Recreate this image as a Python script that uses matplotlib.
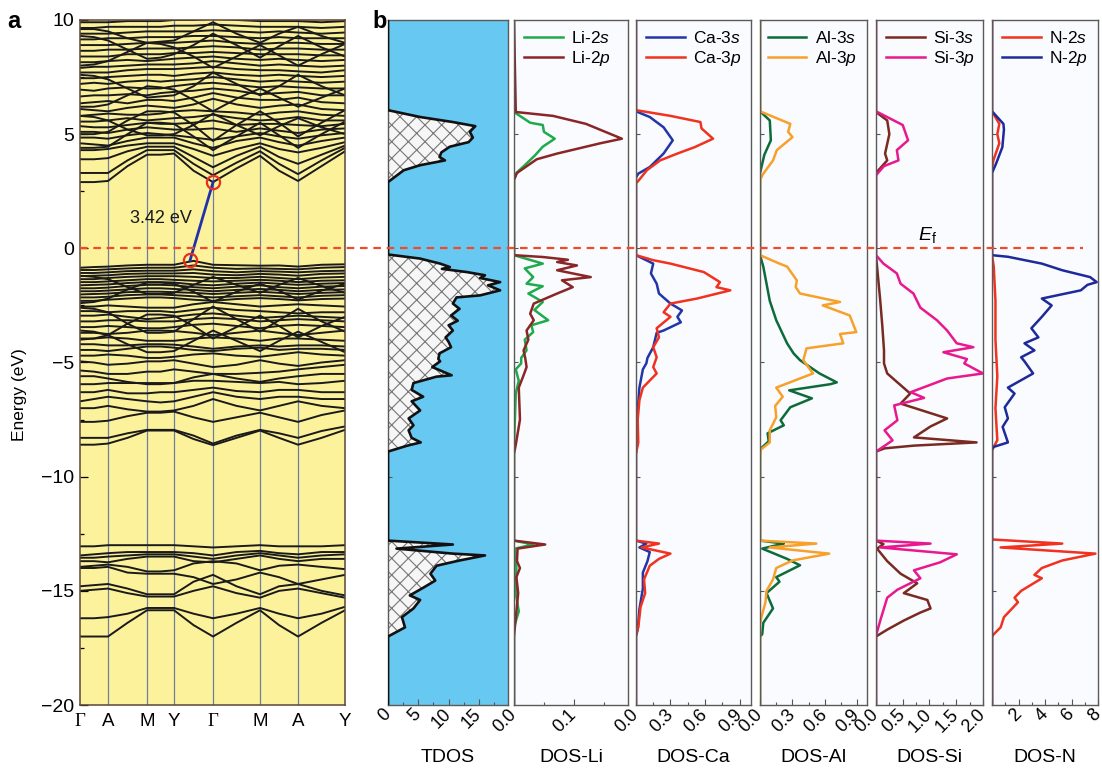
"""
Band structure (a) and total / partial density of states (b).
Values read off the reference figure.
"""
import numpy as np
import matplotlib
matplotlib.use("Agg")
import matplotlib.pyplot as plt
import matplotlib.ticker as ticker
from matplotlib.lines import Line2D
from matplotlib.transforms import blended_transform_factory

plt.rcParams["font.family"] = ["Liberation Sans", "DejaVu Sans"]
plt.rcParams["mathtext.fontset"] = "custom"
plt.rcParams["mathtext.rm"] = "Liberation Sans"
plt.rcParams["mathtext.it"] = "Liberation Sans:italic"
plt.rcParams["hatch.linewidth"] = 0.8
plt.rcParams["hatch.color"] = "#767676"

# --------------------------------------------------------------------------- #
#  Band structure data                                                         #
# --------------------------------------------------------------------------- #
K_NODES = [0, 28, 67, 94, 133, 180, 218, 265]
K_LABELS = ["Γ", "A", "M", "Y", "Γ", "M", "A", "Y"]
# sampled path: nodes and segment midpoints
K_SAMPLE = [0, 14, 28, 47.5, 67, 80.5, 94, 113.5, 133, 156.5, 180, 199, 218, 241.5, 265]

BANDS_CB = [
    [2.90, 2.90, 2.95, 3.60, 4.10, 4.10, 4.15, 3.40, 2.90, 3.50, 4.05, 3.40, 2.95, 3.60, 4.25],
    [3.30, 3.30, 3.30, 3.85, 4.30, 4.30, 4.30, 3.70, 3.20, 3.75, 4.25, 3.70, 3.25, 3.85, 4.40],
    [3.90, 3.90, 3.95, 4.25, 4.45, 4.45, 4.45, 4.00, 3.55, 4.05, 4.45, 4.00, 3.70, 4.10, 4.50],
    [4.30, 4.30, 4.35, 4.50, 4.60, 4.60, 4.60, 4.35, 4.05, 4.35, 4.60, 4.35, 4.20, 4.40, 4.65],
    [4.60, 4.55, 4.50, 4.70, 4.85, 4.85, 4.85, 4.60, 4.40, 4.70, 4.85, 4.65, 4.50, 4.70, 4.85],
    [4.85, 4.85, 4.80, 4.95, 5.05, 5.00, 4.95, 4.85, 4.75, 4.90, 5.05, 4.90, 4.80, 4.95, 5.05],
    [5.10, 5.10, 5.05, 5.20, 5.30, 5.25, 5.20, 5.20, 5.25, 5.10, 5.25, 5.15, 5.05, 5.20, 5.25],
    [5.35, 5.30, 5.30, 5.40, 5.50, 5.45, 5.45, 5.50, 5.60, 5.40, 5.45, 5.45, 5.40, 5.35, 5.45],
    [5.55, 5.55, 5.60, 5.70, 5.60, 5.65, 5.70, 5.75, 5.85, 5.70, 5.60, 5.65, 5.75, 5.60, 5.60],
    [5.80, 5.85, 5.90, 5.85, 5.85, 5.90, 6.00, 6.05, 6.00, 5.95, 5.85, 5.95, 6.00, 5.85, 5.80],
    [6.10, 6.05, 6.00, 6.15, 6.25, 6.20, 6.15, 6.30, 6.55, 6.30, 6.15, 6.25, 6.30, 6.10, 6.05],
    [6.35, 6.40, 6.45, 6.35, 6.50, 6.50, 6.45, 6.60, 6.80, 6.60, 6.50, 6.50, 6.60, 6.40, 6.35],
    [6.65, 6.70, 6.70, 6.75, 6.70, 6.80, 6.85, 6.90, 7.00, 6.90, 6.75, 6.80, 6.85, 6.70, 6.70],
    [6.95, 6.90, 7.00, 7.05, 7.00, 7.00, 7.10, 7.20, 7.25, 7.15, 7.05, 7.10, 7.05, 7.00, 7.00],
    [7.20, 7.25, 7.20, 7.30, 7.35, 7.30, 7.35, 7.40, 7.50, 7.40, 7.30, 7.35, 7.30, 7.25, 7.30],
    [7.45, 7.45, 7.50, 7.55, 7.60, 7.60, 7.55, 7.65, 7.70, 7.60, 7.55, 7.60, 7.55, 7.50, 7.55],
    [7.70, 7.70, 7.70, 7.80, 7.85, 7.85, 7.85, 7.90, 7.95, 7.85, 7.80, 7.80, 7.75, 7.70, 7.80],
    [7.90, 7.95, 7.95, 8.00, 8.05, 8.05, 8.05, 8.10, 8.20, 8.10, 8.00, 8.05, 8.00, 7.95, 8.00],
    [8.15, 8.15, 8.20, 8.25, 8.20, 8.25, 8.30, 8.35, 8.40, 8.30, 8.25, 8.30, 8.25, 8.20, 8.25],
    [8.40, 8.40, 8.40, 8.50, 8.50, 8.50, 8.55, 8.55, 8.60, 8.55, 8.50, 8.50, 8.50, 8.45, 8.45],
    [8.65, 8.65, 8.70, 8.70, 8.75, 8.75, 8.75, 8.80, 8.85, 8.80, 8.70, 8.75, 8.75, 8.70, 8.70],
    [8.90, 8.90, 8.90, 8.95, 9.00, 9.00, 9.00, 9.05, 9.10, 9.00, 8.95, 9.00, 9.00, 8.95, 8.95],
    [9.15, 9.15, 9.20, 9.20, 9.25, 9.25, 9.25, 9.30, 9.30, 9.25, 9.20, 9.25, 9.20, 9.20, 9.20],
    [9.40, 9.40, 9.40, 9.45, 9.50, 9.50, 9.50, 9.50, 9.55, 9.50, 9.45, 9.50, 9.45, 9.40, 9.45],
    [9.65, 9.65, 9.70, 9.70, 9.70, 9.70, 9.75, 9.75, 9.80, 9.75, 9.70, 9.70, 9.70, 9.65, 9.70],
    [9.90, 9.90, 9.90, 9.95, 9.95, 9.95, 10.0, 10.0, 10.05, 10.0, 9.95, 9.95, 9.95, 9.90, 9.95],
    [4.40, 4.40, 4.45, 5.00, 5.50, 5.50, 5.45, 4.90, 4.30, 4.90, 5.50, 4.95, 4.40, 5.00, 5.55],
    [5.80, 5.75, 5.60, 5.20, 4.95, 4.95, 5.00, 5.40, 5.90, 5.40, 4.95, 5.35, 5.70, 5.30, 5.00],
    [6.20, 6.20, 6.30, 6.70, 7.10, 7.05, 6.95, 6.50, 6.00, 6.55, 7.00, 6.60, 6.20, 6.60, 7.00],
    [7.60, 7.55, 7.40, 7.00, 6.60, 6.65, 6.70, 7.10, 7.70, 7.20, 6.70, 7.10, 7.60, 7.10, 6.70],
    [8.00, 8.05, 8.20, 8.60, 9.00, 8.95, 8.80, 8.40, 7.90, 8.40, 8.90, 8.45, 8.00, 8.50, 8.95],
    [9.30, 9.25, 9.10, 8.70, 8.30, 8.35, 8.50, 8.90, 9.40, 8.90, 8.35, 8.85, 9.30, 8.80, 8.40],
    [5.00, 5.00, 5.10, 5.60, 6.00, 6.00, 5.95, 5.40, 4.70, 5.40, 6.00, 5.50, 4.90, 5.50, 6.05],
    [9.60, 9.60, 9.50, 9.20, 9.00, 9.05, 9.10, 9.50, 9.90, 9.40, 9.00, 9.40, 9.70, 9.30, 9.00],
]

BANDS_VB = [
    [-0.85, -0.82, -0.80, -0.75, -0.72, -0.72, -0.72, -0.55, -0.72, -0.74, -0.76, -0.75, -0.80, -0.72, -0.70],
    [-0.95, -0.95, -0.92, -0.88, -0.85, -0.85, -0.85, -0.75, -0.85, -0.90, -0.88, -0.90, -0.92, -0.85, -0.82],
    [-1.08, -1.08, -1.05, -1.00, -0.98, -0.98, -0.98, -0.92, -1.00, -1.05, -1.00, -1.02, -1.05, -1.00, -0.98],
    [-1.22, -1.20, -1.18, -1.12, -1.10, -1.10, -1.10, -1.08, -1.15, -1.18, -1.12, -1.15, -1.20, -1.12, -1.10],
    [-1.35, -1.35, -1.30, -1.25, -1.22, -1.22, -1.22, -1.25, -1.30, -1.30, -1.25, -1.30, -1.35, -1.28, -1.25],
    [-1.48, -1.48, -1.45, -1.40, -1.35, -1.35, -1.38, -1.42, -1.45, -1.42, -1.38, -1.42, -1.48, -1.42, -1.40],
    [-1.62, -1.60, -1.58, -1.52, -1.48, -1.48, -1.50, -1.58, -1.62, -1.55, -1.50, -1.55, -1.60, -1.55, -1.52],
    [-1.75, -1.75, -1.72, -1.65, -1.60, -1.60, -1.62, -1.70, -1.75, -1.68, -1.62, -1.70, -1.75, -1.68, -1.65],
    [-1.88, -1.88, -1.85, -1.80, -1.75, -1.75, -1.78, -1.82, -1.88, -1.82, -1.78, -1.82, -1.88, -1.82, -1.80],
    [-2.02, -2.00, -1.98, -1.92, -1.90, -1.90, -1.92, -1.95, -2.00, -1.95, -1.90, -1.95, -2.00, -1.95, -1.92],
    [-2.15, -2.15, -2.12, -2.05, -2.02, -2.02, -2.05, -2.10, -2.15, -2.10, -2.05, -2.10, -2.15, -2.08, -2.05],
    [-2.30, -2.30, -2.25, -2.20, -2.15, -2.15, -2.18, -2.25, -2.30, -2.22, -2.18, -2.22, -2.28, -2.22, -2.20],
    [-1.20, -1.25, -1.35, -1.70, -2.00, -2.00, -1.95, -1.60, -1.25, -1.60, -1.95, -1.60, -1.30, -1.65, -1.95],
    [-2.40, -2.35, -2.20, -1.80, -1.50, -1.50, -1.55, -1.90, -2.35, -1.90, -1.55, -1.85, -2.25, -1.85, -1.55],
    [-2.55, -2.55, -2.50, -2.55, -2.60, -2.60, -2.60, -2.45, -2.35, -2.45, -2.55, -2.50, -2.45, -2.50, -2.55],
    [-2.75, -2.75, -2.80, -2.75, -2.75, -2.75, -2.80, -2.70, -2.60, -2.70, -2.75, -2.80, -2.85, -2.80, -2.80],
    [-2.95, -2.95, -2.90, -3.00, -3.10, -3.05, -3.00, -2.90, -2.85, -2.95, -3.05, -3.00, -2.95, -3.00, -3.05],
    [-3.20, -3.20, -3.15, -3.15, -3.20, -3.20, -3.20, -3.10, -3.05, -3.10, -3.20, -3.15, -3.10, -3.15, -3.20],
    [-3.45, -3.45, -3.40, -3.45, -3.50, -3.50, -3.45, -3.35, -3.30, -3.40, -3.50, -3.40, -3.35, -3.40, -3.45],
    [-3.70, -3.70, -3.75, -3.70, -3.60, -3.60, -3.62, -3.70, -3.80, -3.70, -3.60, -3.70, -3.80, -3.70, -3.60],
    [-3.95, -3.95, -3.90, -3.95, -4.05, -4.05, -4.05, -3.95, -3.90, -3.95, -4.05, -3.95, -3.95, -4.00, -4.05],
    [-4.20, -4.20, -4.25, -4.25, -4.20, -4.20, -4.22, -4.30, -4.40, -4.30, -4.25, -4.30, -4.25, -4.25, -4.30],
    [-4.45, -4.45, -4.50, -4.40, -4.30, -4.30, -4.35, -4.45, -4.50, -4.40, -4.35, -4.45, -4.40, -4.40, -4.45],
    [-4.70, -4.70, -4.65, -4.70, -4.80, -4.80, -4.75, -4.65, -4.60, -4.70, -4.75, -4.65, -4.55, -4.65, -4.70],
    [-4.95, -5.00, -5.10, -5.05, -4.95, -4.95, -4.90, -5.05, -5.20, -5.10, -4.90, -5.05, -5.15, -5.00, -4.90],
    [-2.60, -2.65, -2.80, -3.30, -3.70, -3.70, -3.65, -3.10, -2.55, -3.10, -3.65, -3.15, -2.65, -3.20, -3.65],
    [-4.00, -3.95, -3.80, -3.30, -2.90, -2.90, -2.95, -3.40, -3.95, -3.45, -2.95, -3.40, -3.90, -3.40, -3.00],
    [-3.60, -3.65, -3.80, -4.20, -4.55, -4.55, -4.50, -4.05, -3.60, -4.05, -4.50, -4.05, -3.65, -4.10, -4.55],
    [-5.35, -5.40, -5.50, -5.50, -5.40, -5.40, -5.30, -5.40, -5.50, -5.50, -5.45, -5.40, -5.30, -5.20, -5.10],
    [-5.60, -5.60, -5.70, -5.85, -5.95, -5.95, -5.90, -5.65, -5.50, -5.70, -5.85, -5.70, -5.60, -5.50, -5.50],
    [-5.95, -5.95, -5.90, -5.90, -5.90, -5.90, -5.90, -5.80, -5.80, -5.85, -5.90, -5.85, -5.95, -5.90, -5.80],
    [-6.30, -6.30, -6.20, -6.35, -6.35, -6.30, -6.30, -6.20, -6.10, -6.25, -6.30, -6.20, -6.20, -6.30, -6.30],
    [-6.70, -6.60, -6.50, -6.60, -6.70, -6.75, -6.70, -6.50, -6.30, -6.50, -6.60, -6.50, -6.50, -6.60, -6.60],
    [-7.00, -7.00, -6.90, -7.05, -7.15, -7.15, -7.10, -6.90, -6.60, -6.90, -7.10, -6.90, -6.70, -6.90, -7.00],
    [-7.60, -7.60, -7.55, -7.35, -7.20, -7.20, -7.15, -7.40, -7.60, -7.40, -7.20, -7.40, -7.60, -7.30, -7.10],
    [-8.30, -8.30, -8.30, -8.10, -7.95, -7.95, -7.95, -8.20, -8.55, -8.20, -7.95, -8.10, -8.30, -8.00, -7.80],
    [-8.60, -8.60, -8.55, -8.30, -7.98, -7.98, -7.98, -8.35, -8.62, -8.30, -7.98, -8.30, -8.60, -8.30, -7.95],
]

BANDS_DEEP = [
    [-17.0, -17.0, -17.0, -16.4, -15.85, -15.85, -15.85, -16.5, -17.0, -16.4, -15.85, -16.5, -17.0, -16.4, -15.85],
    [-16.2, -16.2, -16.15, -16.0, -15.75, -15.75, -15.75, -16.0, -16.2, -16.0, -15.75, -16.0, -16.2, -16.0, -15.7],
    [-15.0, -14.95, -14.9, -15.1, -15.25, -15.25, -15.25, -15.0, -14.8, -15.1, -15.3, -15.0, -14.9, -15.1, -15.3],
    [-14.8, -14.75, -14.7, -14.9, -15.15, -15.15, -15.15, -14.6, -14.3, -14.8, -15.15, -14.8, -14.7, -15.0, -15.2],
    [-14.0, -14.0, -13.95, -14.2, -14.25, -14.25, -14.25, -14.4, -14.7, -14.5, -14.2, -14.4, -14.7, -14.5, -14.3],
    [-13.95, -13.9, -13.85, -13.95, -14.15, -14.15, -14.1, -13.8, -13.7, -13.8, -14.1, -13.9, -13.85, -13.95, -14.05],
    [-13.7, -13.7, -13.75, -13.6, -13.5, -13.5, -13.5, -13.7, -13.75, -13.6, -13.45, -13.6, -13.7, -13.6, -13.6],
    [-13.55, -13.55, -13.5, -13.45, -13.4, -13.4, -13.4, -13.5, -13.6, -13.45, -13.35, -13.45, -13.55, -13.45, -13.4],
    [-13.45, -13.4, -13.35, -13.3, -13.3, -13.3, -13.3, -13.35, -13.45, -13.3, -13.25, -13.35, -13.4, -13.3, -13.3],
    [-13.05, -13.05, -13.0, -13.0, -13.0, -13.0, -13.0, -13.05, -13.1, -13.05, -13.0, -13.05, -13.05, -13.05, -13.0],
]

GAP_K = [110, 133]          # VBM, CBM positions on the path
GAP_E = [-0.53, 2.89]
GAP_TEXT = "3.42 eV"

# --------------------------------------------------------------------------- #
#  Density of states data: (energy eV, DOS)                                   #
# --------------------------------------------------------------------------- #
TDOS = [(10, 0), (6.05, 0), (5.75, 5.3), (5.53, 10.7), (5.35, 14.4), (5.1, 13.5),
        (4.85, 14.0), (4.65, 13.3), (4.45, 10.2), (4.2, 8.8), (4.0, 8.5), (3.85, 9.4),
        (3.64, 5.3), (3.42, 2.6), (2.9, 0),
        (-0.27, 0), (-0.45, 5.3), (-0.67, 8.6), (-0.82, 10.2), (-0.9, 8.9), (-1.04, 13.0),
        (-1.18, 16.0), (-1.3, 15.2), (-1.48, 18.5), (-1.62, 16.5), (-1.84, 18.5), (-2.06, 15.2),
        (-2.15, 11.3), (-2.42, 10.7), (-2.65, 11.8), (-2.94, 10.4), (-3.17, 11.5), (-3.37, 10.0),
        (-3.6, 10.7), (-3.9, 9.5), (-4.1, 10.0), (-4.33, 10.4), (-4.6, 8.5), (-4.84, 8.3),
        (-4.95, 8.6), (-5.2, 7.3), (-5.56, 10.5), (-5.62, 8.0), (-5.9, 4.2), (-6.2, 3.9),
        (-6.5, 5.8), (-6.7, 3.9), (-7.1, 5.3), (-7.45, 3.4), (-7.75, 4.2), (-7.97, 3.4),
        (-8.3, 3.9), (-8.5, 5.4), (-8.64, 3.2), (-8.9, 0),
        (-12.8, 0), (-12.97, 10.7), (-13.15, 1.4), (-13.37, 10.7), (-13.45, 16.0), (-13.67, 11.8),
        (-13.9, 8.0), (-14.25, 7.0), (-14.55, 7.8), (-14.85, 5.9), (-15.2, 3.6), (-15.4, 5.3),
        (-15.77, 4.2), (-16.15, 2.3), (-16.6, 2.8), (-17.0, 0), (-20, 0)]

LI_2S = [(10, 0), (5.97, 0), (5.5, 0.027), (5.4, 0.048), (5.1, 0.05), (4.8, 0.068),
         (4.45, 0.048), (4.07, 0.035), (3.64, 0.018), (3.3, 0.004), (3.0, 0),
         (-0.3, 0), (-0.67, 0.048), (-0.88, 0.018), (-1.26, 0.032), (-1.55, 0.021),
         (-1.66, 0.048), (-1.98, 0.024), (-2.35, 0.048), (-2.7, 0.034), (-3.15, 0.057),
         (-3.37, 0.029), (-3.67, 0.032), (-4.0, 0.018), (-4.47, 0.021), (-4.8, 0.012),
         (-5.04, 0.012), (-5.3, 0.003), (-5.8, 0.008), (-6.35, 0.003), (-7.9, 0.001), (-9.0, 0),
         (-12.8, 0), (-12.97, 0.032), (-13.15, 0.002), (-14.0, 0.004), (-15.1, 0.003),
         (-15.9, 0.008), (-16.6, 0), (-20, 0)]
LI_2P = [(10, 0), (5.97, 0.003), (5.8, 0.065), (5.45, 0.12), (4.8, 0.18), (4.6, 0.144),
         (4.15, 0.072), (3.9, 0.038), (3.3, 0.005), (3.0, 0),
         (-0.3, 0), (-0.38, 0.048), (-0.5, 0.09), (-0.6, 0.072), (-0.75, 0.105), (-0.96, 0.072),
         (-1.26, 0.128), (-1.4, 0.08), (-1.7, 0.098), (-1.98, 0.072), (-2.42, 0.033),
         (-2.86, 0.027), (-3.15, 0.033), (-3.6, 0.021), (-4.0, 0.024), (-4.47, 0.016),
         (-4.84, 0.019), (-5.2, 0.021), (-5.56, 0.016), (-6.1, 0.008), (-7.5, 0.01),
         (-8.6, 0.003), (-9.0, 0),
         (-12.8, 0), (-12.97, 0.052), (-13.15, 0.006), (-13.7, 0.005), (-14.0, 0.01),
         (-14.4, 0.004), (-15.1, 0.007), (-15.9, 0.004), (-17.0, 0), (-20, 0)]

CA_3S = [(10, 0), (6.0, 0), (5.75, 0.12), (5.3, 0.24), (4.73, 0.32), (4.15, 0.24),
         (3.56, 0.12), (3.27, 0.02), (3.1, 0),
         (-0.3, 0), (-0.67, 0.15), (-1.1, 0.13), (-1.55, 0.18), (-1.98, 0.2), (-2.42, 0.3),
         (-2.72, 0.4), (-3.0, 0.36), (-3.24, 0.39), (-3.6, 0.24), (-3.7, 0.18), (-4.33, 0.15),
         (-4.8, 0.1), (-5.04, 0.09), (-5.3, 0.06), (-6.1, 0.03), (-7.1, 0.015), (-8.5, 0.01),
         (-9.0, 0),
         (-12.8, 0), (-12.93, 0.09), (-13.1, 0.03), (-13.3, 0.12), (-13.7, 0.1), (-14.2, 0.06),
         (-14.9, 0.06), (-15.8, 0.03), (-16.7, 0.015), (-17.0, 0), (-20, 0)]
CA_3P = [(10, 0), (6.05, 0), (5.8, 0.3), (5.53, 0.56), (5.25, 0.57), (4.8, 0.67),
         (4.43, 0.51), (4.15, 0.36), (3.85, 0.21), (3.42, 0.095), (2.95, 0.02), (2.85, 0),
         (-0.3, 0), (-0.52, 0.15), (-0.67, 0.3), (-1.04, 0.59), (-1.48, 0.73), (-1.7, 0.7),
         (-1.84, 0.82), (-2.2, 0.53), (-2.42, 0.3), (-2.8, 0.24), (-3.0, 0.3), (-3.5, 0.18),
         (-3.9, 0.2), (-4.33, 0.15), (-4.77, 0.18), (-5.2, 0.15), (-5.48, 0.18), (-6.1, 0.06),
         (-6.65, 0.03), (-7.5, 0.015), (-8.5, 0.02), (-9.0, 0),
         (-12.8, 0), (-12.93, 0.2), (-13.1, 0.05), (-13.37, 0.3), (-13.6, 0.2), (-13.9, 0.12),
         (-14.5, 0.07), (-15.1, 0.08), (-15.7, 0.04), (-16.6, 0.02), (-16.9, 0), (-20, 0)]

AL_3S = [(10, 0), (6.0, 0), (5.6, 0.09), (4.73, 0.1), (4.1, 0.04), (3.3, 0),
         (-0.3, 0), (-0.8, 0.03), (-1.55, 0.06), (-2.3, 0.09), (-3.15, 0.15), (-4.16, 0.25),
         (-4.6, 0.31), (-4.9, 0.37), (-5.48, 0.55), (-5.87, 0.71), (-5.95, 0.65), (-6.22, 0.27),
         (-6.57, 0.48), (-6.96, 0.28), (-7.53, 0.19), (-7.75, 0.22), (-8.1, 0.07),
         (-8.45, 0.08), (-8.8, 0),
         (-12.8, 0), (-12.93, 0.22), (-13.15, 0.02), (-13.6, 0.25), (-13.88, 0.37),
         (-14.4, 0.15), (-14.6, 0.18), (-15.1, 0.06), (-15.77, 0.12), (-16.4, 0.03),
         (-16.9, 0.02), (-17.0, 0), (-20, 0)]
AL_3P = [(10, 0), (6.0, 0), (5.45, 0.28), (5.1, 0.26), (4.87, 0.3), (4.3, 0.155),
         (3.85, 0.12), (3.27, 0.03), (3.0, 0),
         (-0.3, 0), (-0.67, 0.18), (-0.8, 0.25), (-1.4, 0.34), (-1.7, 0.33), (-1.98, 0.37),
         (-2.35, 0.74), (-2.5, 0.58), (-2.94, 0.83), (-3.67, 0.89), (-3.75, 0.74),
         (-4.16, 0.77), (-4.38, 0.43), (-4.9, 0.4), (-5.48, 0.49), (-6.1, 0.15), (-6.5, 0.21),
         (-6.9, 0.14), (-7.4, 0.15), (-7.97, 0.09), (-8.5, 0.09), (-8.8, 0.01), (-9.0, 0),
         (-12.8, 0), (-12.93, 0.52), (-13.1, 0.09), (-13.37, 0.64), (-13.67, 0.3),
         (-14.0, 0.15), (-14.5, 0.12), (-15.0, 0.06), (-15.5, 0.05), (-16.2, 0.01),
         (-16.5, 0), (-20, 0)]

SI_3S = [(10, 0), (5.97, 0), (5.6, 0.21), (5.0, 0.25), (4.15, 0.17), (3.85, 0.21), (3.3, 0),
         (-0.3, 0), (-0.8, 0.02), (-2.3, 0.08), (-3.45, 0.12), (-4.47, 0.15), (-5.04, 0.15),
         (-5.48, 0.21), (-6.36, 0.64), (-6.8, 0.46), (-7.45, 1.33), (-7.8, 1.02),
         (-8.28, 0.71), (-8.5, 1.88), (-8.64, 0.71), (-8.76, 0.16), (-8.9, 0),
         (-12.8, 0), (-12.95, 0.14), (-13.15, 0.02), (-13.7, 0.21), (-14.25, 0.46),
         (-14.67, 0.77), (-15.1, 0.52), (-15.4, 0.96), (-15.77, 1.02), (-15.95, 0.83),
         (-16.3, 0.52), (-16.7, 0.21), (-17.0, 0), (-20, 0)]
SI_3P = [(10, 0), (6.0, 0), (5.4, 0.5), (5.2, 0.53), (4.73, 0.6), (4.3, 0.39), (3.85, 0.42),
         (3.6, 0.15), (3.2, 0),
         (-0.3, 0), (-0.67, 0.14), (-1.1, 0.39), (-1.55, 0.46), (-1.98, 0.7), (-2.6, 0.83),
         (-3.15, 1.14), (-3.6, 1.33), (-4.16, 1.51), (-4.33, 1.82), (-4.55, 1.26),
         (-4.85, 1.7), (-5.04, 1.65), (-5.48, 2.0), (-5.7, 1.33), (-6.3, 0.65), (-6.55, 0.9),
         (-6.88, 0.34), (-7.53, 0.4), (-7.97, 0.16), (-8.41, 0.31), (-8.76, 0.09), (-8.9, 0),
         (-12.8, 0), (-12.93, 1.02), (-13.1, 0.08), (-13.4, 1.51), (-13.75, 1.2),
         (-14.1, 0.71), (-14.45, 0.83), (-14.95, 0.4), (-15.3, 0.21), (-16.3, 0.08),
         (-16.8, 0.02), (-17.0, 0), (-20, 0)]

N_2S = [(10, 0), (6.0, 0), (5.45, 0.55), (5.0, 0.4), (4.6, 0.55), (3.85, 0.1), (3.5, 0),
        (-0.3, 0), (-0.8, 0.13), (-2.3, 0.26), (-4.0, 0.26), (-5.6, 0.4), (-7.0, 0.26),
        (-8.4, 0.4), (-8.85, 0),
        (-12.75, 0), (-12.93, 5.3), (-13.1, 0.65), (-13.37, 7.8), (-13.67, 5.3), (-14.0, 3.76),
        (-14.3, 3.2), (-14.45, 3.76), (-15.0, 2.2), (-15.3, 1.7), (-15.5, 1.96),
        (-16.15, 0.9), (-16.6, 0.65), (-16.9, 0.13), (-17.0, 0), (-20, 0)]
N_2P = [(10, 0), (6.0, 0), (5.45, 0.86), (5.2, 0.9), (4.43, 0.78), (3.7, 0.3), (3.3, 0),
        (-0.3, 0), (-0.37, 1.2), (-0.67, 3.76), (-0.96, 5.3), (-1.26, 7.4), (-1.48, 7.9),
        (-1.6, 7.2), (-1.84, 6.7), (-2.2, 3.76), (-2.5, 4.5), (-3.0, 3.76), (-3.5, 2.97),
        (-3.9, 3.5), (-4.16, 2.45), (-4.47, 3.2), (-4.77, 2.2), (-4.95, 2.45), (-5.48, 3.1),
        (-6.1, 1.2), (-6.36, 1.7), (-6.96, 0.96), (-7.45, 1.2), (-7.82, 0.8), (-8.5, 1.2),
        (-8.7, 0.1), (-8.8, 0), (-20, 0)]

# panel definitions: (name, curves, labels, colours, xmax, major ticks, tick labels, legend loc)
PDOS_PANELS = [
    ("DOS-Li", [LI_2S, LI_2P], ["Li-2$s$", "Li-2$p$"], ["#1faa4b", "#8b2626"],
     0.19, [0.0, 0.1], ["0.0", "0.1"], "upper left"),
    ("DOS-Ca", [CA_3S, CA_3P], ["Ca-3$s$", "Ca-3$p$"], ["#2236a8", "#f0321f"],
     1.0, [0.0, 0.3, 0.6, 0.9], ["0.0", "0.3", "0.6", "0.9"], "upper left"),
    ("DOS-Al", [AL_3S, AL_3P], ["Al-3$s$", "Al-3$p$"], ["#0d6b3a", "#f7a12a"],
     0.99, [0.0, 0.3, 0.6, 0.9], ["0.0", "0.3", "0.6", "0.9"], "upper right"),
    ("DOS-Si", [SI_3S, SI_3P], ["Si-3$s$", "Si-3$p$"], ["#7a2a20", "#e8198e"],
     2.0, [0.0, 0.5, 1.0, 1.5, 2.0], ["0.0", "0.5", "1.0", "1.5", "2.0"], "upper left"),
    ("DOS-N", [N_2S, N_2P], ["N-2$s$", "N-2$p$"], ["#f0321f", "#1e2a9a"],
     8.0, [2, 4, 6, 8], ["2", "4", "6", "8"], "upper left"),
]

E_MIN, E_MAX = -20, 10

# figure geometry (fractions)
BOTTOM, HEIGHT = 0.082, 0.892
AX_A = [0.0726, BOTTOM, 0.2405, HEIGHT]
AX_TDOS = [0.3521, BOTTOM, 0.1089, HEIGHT]
AX_PDOS = [[0.4664, BOTTOM, 0.1034, HEIGHT],
           [0.5771, BOTTOM, 0.1044, HEIGHT],
           [0.6897, BOTTOM, 0.0971, HEIGHT],
           [0.7949, BOTTOM, 0.0971, HEIGHT],
           [0.9002, BOTTOM, 0.0962, HEIGHT]]

TICK_FS = 13
LABEL_FS = 14


def style_dos_axis(ax, xmax, major, labels, minor_step, xlabel):
    ax.set_xlim(0, xmax)
    ax.set_ylim(E_MIN, E_MAX)
    ax.set_xticks(major)
    ax.set_xticklabels(labels, rotation=45, ha="right", va="center",
                       rotation_mode="anchor", fontsize=TICK_FS)
    ax.xaxis.set_minor_locator(ticker.MultipleLocator(minor_step))
    ax.set_yticks([-15, -10, -5, 0, 5])
    ax.set_yticklabels([])
    ax.tick_params(axis="x", which="major", direction="in", length=4, width=0.8,
                   pad=5, color="#555555")
    ax.tick_params(axis="x", which="minor", direction="in", length=2.5, width=0.8,
                   color="#555555")
    ax.tick_params(axis="y", direction="in", length=3, width=0.8, color="#555555")
    for sp in ax.spines.values():
        sp.set_color("#5a5a5a")
        sp.set_linewidth(1.0)
    ax.set_xlabel(xlabel, fontsize=LABEL_FS)
    ax.xaxis.set_label_coords(0.5, -0.064)


def main():
    fig = plt.figure(figsize=(11.02, 7.68), dpi=100)

    # ---------------- (a) band structure ----------------
    ax = fig.add_axes(AX_A)
    ax.set_facecolor("#fcf29b")
    for k in K_NODES[1:-1]:
        ax.axvline(k, color="#6e7d9c", lw=0.9, zorder=1)
    for band in BANDS_CB + BANDS_VB + BANDS_DEEP:
        ax.plot(K_SAMPLE, band, color="#1a1a1a", lw=1.4, zorder=2)
    ax.plot(GAP_K, GAP_E, color="#2233aa", lw=2.0, zorder=4)
    ax.plot(GAP_K, GAP_E, "o", ms=9.5, mfc="none", mec="#e8301e", mew=1.6, zorder=5)
    ax.text(81, 1.3, GAP_TEXT, ha="center", va="center", fontsize=13, color="#1a1a1a",
            zorder=6)
    ax.set_xlim(K_NODES[0], K_NODES[-1])
    ax.set_ylim(E_MIN, E_MAX)
    ax.set_xticks(K_NODES)
    ax.set_xticklabels(K_LABELS, fontsize=TICK_FS + 0.5)
    for lab in ax.get_xticklabels():
        if lab.get_text() == "Γ":
            lab.set_fontfamily(["Liberation Serif", "DejaVu Serif"])
    ax.tick_params(axis="x", length=0, pad=6)
    ax.yaxis.set_major_locator(ticker.MultipleLocator(5))
    ax.yaxis.set_minor_locator(ticker.MultipleLocator(2.5))
    ax.yaxis.set_major_formatter(ticker.FuncFormatter(
        lambda v, p: f"{v:.0f}".replace("-", "\u2212")))
    ax.tick_params(axis="y", which="major", direction="in", length=6, width=0.9,
                   labelsize=TICK_FS + 1, pad=4)
    ax.tick_params(axis="y", which="minor", direction="in", length=3, width=0.9)
    for sp in ax.spines.values():
        sp.set_color("#5b4636")
        sp.set_linewidth(1.1)
    ax.set_ylabel("Energy (eV)", fontsize=12.5)
    ax.yaxis.set_label_coords(-0.2, 0.4526)
    ax_a = ax

    # ---------------- (b) TDOS ----------------
    ax = fig.add_axes(AX_TDOS)
    ax.set_facecolor("#67c9f1")
    e, d = np.array(TDOS).T
    ax.fill_betweenx(e, 0, d, facecolor="#f6f6f6", edgecolor="#767676", hatch="xx",
                     linewidth=0, zorder=2)
    ax.plot(d, e, color="#111111", lw=1.9, zorder=3)
    style_dos_axis(ax, 19.8, [0, 5, 10, 15], ["0", "5", "10", "15"], 2.5, "TDOS")

    # ---------------- (b) partial DOS ----------------
    for rect, (name, curves, labels, colors, xmax, major, tlabels, loc) in zip(
            AX_PDOS, PDOS_PANELS):
        ax = fig.add_axes(rect)
        ax.set_facecolor("#f9fbff")
        for curve, lab, col in zip(curves, labels, colors):
            e, d = np.array(curve).T
            ax.plot(d, e, color=col, lw=1.8, label=lab)
        minor_step = (major[1] - major[0]) / 2
        style_dos_axis(ax, xmax, major, tlabels, minor_step, name)
        if name == "DOS-N":
            ax.set_xticks([0] + major)
            ax.set_xticklabels([""] + tlabels, rotation=45, ha="right", va="center",
                               rotation_mode="anchor", fontsize=TICK_FS)
        ax.legend(loc=loc, frameon=False, fontsize=12.5, handlelength=2.2,
                  handletextpad=0.5, labelspacing=0.15, borderaxespad=0.2)
        if name == "DOS-Si":
            ax.text(0.97, 0.57, r"$E_\mathrm{f}$", ha="center", va="center",
                    fontsize=14)

    # Fermi level across the whole figure
    trans = blended_transform_factory(fig.transFigure, ax_a.transData)
    fig.add_artist(Line2D([AX_A[0], 0.983], [0, 0], transform=trans,
                          color="#f04a2a", lw=1.6, linestyle=(0, (3.4, 2.6)),
                          zorder=10))

    fig.text(0.007, 0.972, "a", fontsize=17, fontweight="bold", va="center")
    fig.text(0.338, 0.972, "b", fontsize=17, fontweight="bold", va="center")

    fig.savefig("out.png", dpi=100)
    plt.close(fig)


if __name__ == "__main__":
    main()
